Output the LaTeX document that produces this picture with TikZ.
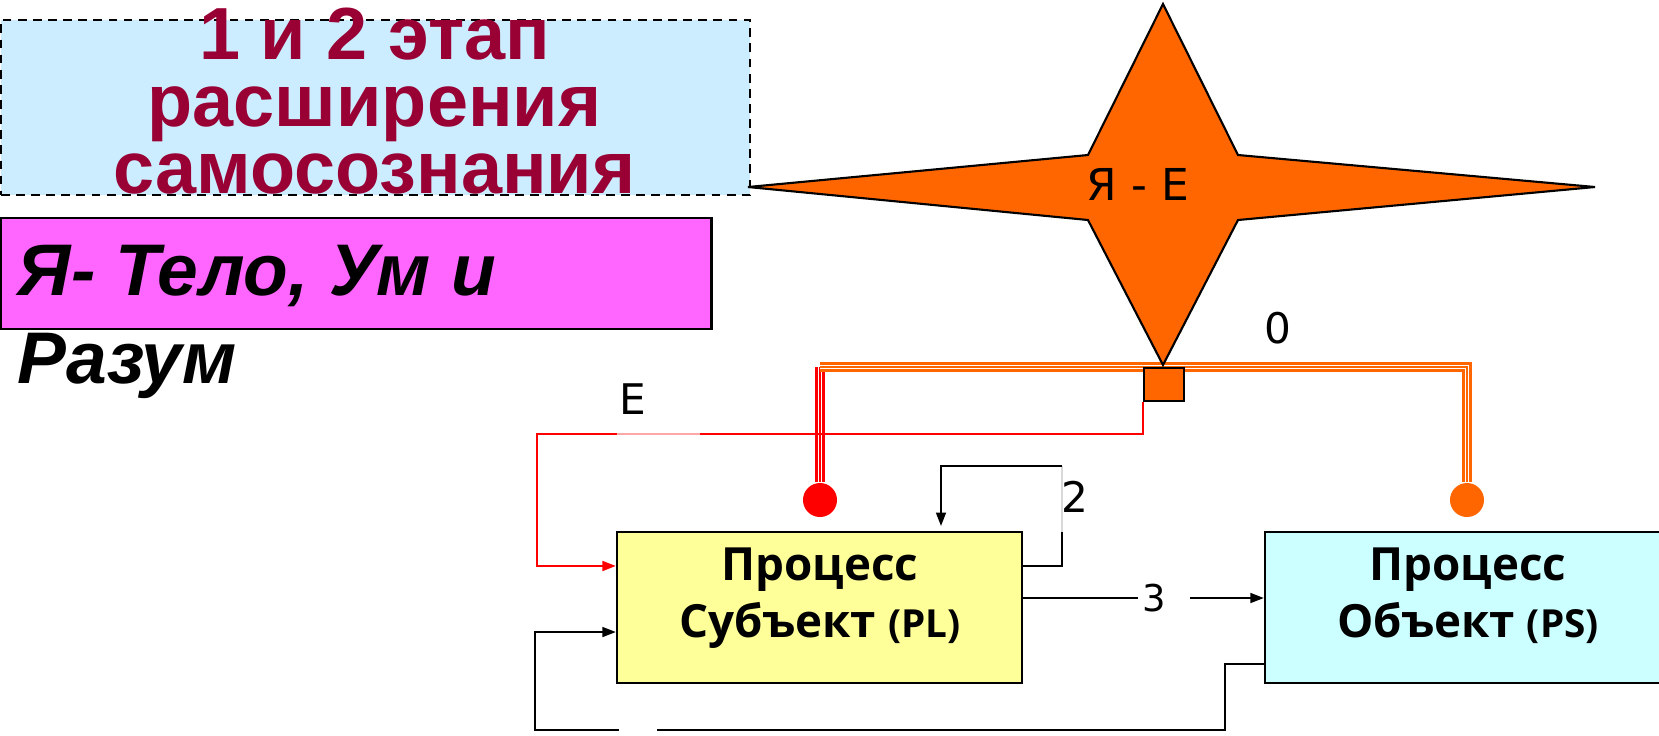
\documentclass[tikz,border=0pt]{standalone}
\usepackage{fontspec}
\setmainfont{Liberation Sans}
\newfontfamily\lblfont{DejaVu Sans}
\newfontfamily\procfont{Open Sans}
\usetikzlibrary{arrows.meta}
\definecolor{titlebg}{HTML}{CCECFF}
\definecolor{titlered}{HTML}{990033}
\definecolor{pinkbg}{HTML}{FF66FF}
\definecolor{starorange}{HTML}{FF6600}
\definecolor{subjyellow}{HTML}{FFFF99}
\definecolor{objcyan}{HTML}{CCFFFF}

\begin{document}
\begin{tikzpicture}[x=0.01cm,y=-0.01cm,
  procbox/.style={draw,line width=0.6pt,minimum width=4.05cm,minimum height=1.51cm,inner sep=0pt},
  proctext/.style={anchor=base,align=center,font=\procfont\bfseries\fontsize{13pt}{16.2pt}\selectfont},
  lbl/.style={anchor=base,inner sep=1pt,font=\lblfont\fontsize{12pt}{14pt}\selectfont},
  dot/.style={circle,inner sep=0pt,minimum size=0.34cm},
  conn/.style={line width=0.5pt},
  arr/.style={conn,-{Triangle[length=3.8pt,width=2.8pt]}},
  redline/.style={red,line width=0.6pt},
  tripleline/.style={draw=#1,line width=2.6pt,
    postaction={draw=white,line width=1.3pt},
    postaction={draw=#1,line width=0.5pt}}]

\useasboundingbox (0,0) rectangle (1659,735);

% title box
\node[draw,fill=titlebg,line width=0.5pt,dash pattern=on 2.5pt off 1.8pt,
  minimum width=7.49cm,minimum height=1.75cm,inner sep=0pt,anchor=north west] (ttlbox) at (0,19) {};
\node[anchor=base,align=center,text=titlered,
  font=\bfseries\fontsize{21pt}{19pt}\selectfont] (ttl) at (374.5,193) {1 и 2 этап\\расширения\\самосознания};

% pink box
\node[draw,fill=pinkbg,line width=0.6pt,minimum width=7.1cm,minimum height=1.11cm,
  inner sep=0pt,anchor=north west] (pinkbox) at (0,217) {};
\node[anchor=base west,align=left,inner sep=0pt,
  font=\bfseries\itshape\fontsize{20.8pt}{25pt}\selectfont] (pinktxt) at (17,383) {Я- Тело, Ум и\\Разум};

% process boxes
\node[procbox,fill=subjyellow] (subj) at (819.5,607.5) {};
\node[proctext] (subjtxt) at (820,637) {Процесс\\Субъект {\fontsize{11pt}{16.2pt}\selectfont(PL)}};
\node[procbox,fill=objcyan,minimum width=4.06cm] (obj) at (1468,607.5) {};
\node[proctext] (objtxt) at (1468,637) {Процесс\\Объект {\fontsize{11pt}{16.2pt}\selectfont(PS)}};

% dots and triple lines
\node[dot,fill=red] (rdot) at (820,500) {};
\node[dot,fill=starorange] (odot) at (1467,500) {};
\coordinate (tl) at (820,367);
\coordinate (tr) at (1467,367);
\draw[tripleline=red] (rdot.north) -- (tl);
\draw[tripleline=starorange] (tl) -- (tr) -- (odot.north);

% star
\coordinate (N) at (1163,4);
\coordinate (S) at (1163,365);
\coordinate (W) at (748,187);
\coordinate (E) at (1595,187);
\coordinate (NE) at (1238,155);
\coordinate (SE) at (1238,220);
\coordinate (SW) at (1088,220);
\coordinate (NW) at (1088,155);
\draw[fill=starorange,line width=0.6pt] (N)--(NE)--(E)--(SE)--(S)--(SW)--(W)--(NW)--cycle;
\node[lbl,font=\lblfont\fontsize{12.5pt}{14pt}\selectfont] (ye) at (1138,200) {Я - Е};

% small square under the star
\node[draw,fill=starorange,line width=0.6pt,minimum width=0.40cm,minimum height=0.33cm,
  inner sep=0pt] (sq) at (1164,384.5) {};

% red line E
\coordinate (e1) at (537,434);
\draw[redline,-{Triangle[length=3.8pt,width=2.8pt]}] (sq.south west) |- (e1) |- ([yshift=0.415cm]subj.west);
\draw[red!35,line width=0.6pt] (617,434) -- (700,434);
\node[lbl] (lE) at (633,414) {E};
\node[lbl] (l0) at (1278,343) {0};

% loop 2
\coordinate (c2a) at (1062,532);
\coordinate (c2b) at (1062,466);
\coordinate (c2c) at (941,526);
\draw[conn] ([yshift=0.415cm]subj.east) -| (c2a);
\draw[conn,black!15] (c2a) -- (c2b);
\draw[arr] (c2b) -| (c2c);
\node[lbl] (l2) at (1075,512) {2};

% arrow 3
\node[lbl,anchor=center,font=\lblfont\fontsize{10.5pt}{12pt}\selectfont] (l3) at (1154,598) {3};
\draw[conn] (subj.east |- l3) -- (l3.west);
\draw[arr] ([xshift=0.2cm]l3.east) -- (obj.west |- l3);

% bottom loop
\coordinate (b1) at (1225,730);
\coordinate (b2) at (657,730);
\coordinate (b3) at (619,730);
\coordinate (b4) at (535,730);
\draw[conn] ([yshift=-0.565cm]obj.west) -| (b1) -- (b2);
\draw[arr] (b3) -- (b4) |- ([yshift=-0.245cm]subj.west);

\end{tikzpicture}
\end{document}
